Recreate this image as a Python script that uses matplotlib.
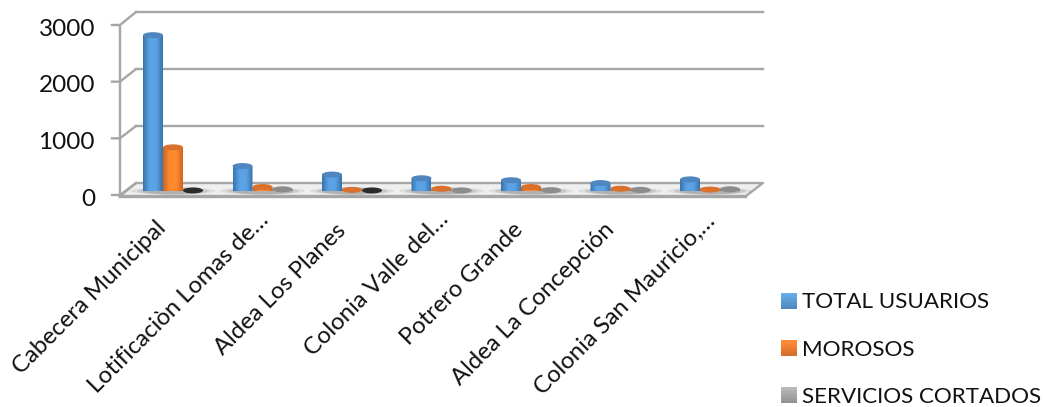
import numpy as np
import matplotlib
matplotlib.use("Agg")
import matplotlib.pyplot as plt
from matplotlib.patches import Ellipse, Polygon, Rectangle, Patch
from matplotlib.legend_handler import HandlerBase
from matplotlib.colors import LinearSegmentedColormap, to_rgb
from matplotlib.transforms import Affine2D

categories = ["Cabecera Municipal", "Lotificaciòn Lomas de…", "Aldea Los Planes",
              "Colonia Valle del…", "Potrero Grande", "Aldea La Concepción",
              "Colonia San Mauricio,…"]
total_usuarios = [2750, 440, 290, 225, 190, 140, 205]
morosos = [770, 70, 20, 40, 70, 40, 25]
servicios_cortados = [10, 30, 10, 10, 15, 20, 30]
y_ticks = [0, 1000, 2000, 3000]

W, H = 1043, 407
plt.rcParams["font.family"] = ["Lato", "DejaVu Sans"]
fig = plt.figure(figsize=(W / 100, H / 100), dpi=100)

def rect(l, t, r, b):
    return [l / W, 1 - b / H, (r - l) / W, (b - t) / H]

# pixel overlay for the 3D frame
bg = fig.add_axes([0, 0, 1, 1], zorder=0)
bg.set_xlim(0, W); bg.set_ylim(H, 0); bg.axis("off")
FL, FR, BL, BR = 120, 746, 136, 763
F0, F3 = 195, 25
B0, B3 = 183, 12
GC = "#A6A6A6"
LW = 1.7
bg.add_patch(Polygon([(FL, F0), (FR, F0), (BR, B0), (BL, B0)], fc="#EFEFEF", ec="none", zorder=1))
bg.plot([FL, FR, BR, BL, FL], [F0 + 1, F0 + 1, B0, B0, F0 + 1], color=GC, lw=LW, zorder=2)
bg.plot([FL, FR], [F0 + 2, F0 + 2], color=GC, lw=LW, zorder=2)
bg.plot([FL, FL], [F0 + 2, F3], color=GC, lw=LW, zorder=2)
for v in y_ticks:
    f = F0 + (F3 - F0) * v / 3000
    b = B0 + (B3 - B0) * v / 3000
    bg.plot([FL - 8, FL, BL], [f, f, b], color=GC, lw=LW, zorder=2)
    if v:
        bg.plot([BL, BR], [b, b], color=GC, lw=LW, zorder=2)

# value axes: front of the chart
ax = fig.add_axes(rect(FL, F3, FR, F0), zorder=1)
ax.patch.set_alpha(0)
ax.set_ylim(0, 3000)
GAP = 89.5
c0 = (173 - FL) / GAP
ax.set_xlim(-c0, -c0 + (FR - FL) / GAP)
for s in ax.spines.values():
    s.set_visible(False)
ax.set_yticks(y_ticks)
ax.set_xticks(range(len(categories)))
ax.set_xticklabels(categories, rotation=45, ha="right", rotation_mode="anchor", fontsize=17.2, color="#111111")
ax.tick_params(axis="y", length=0, pad=18, labelsize=17.5, labelcolor="#111111")
ax.tick_params(axis="x", length=0, pad=17)

# bar axes, same scale lifted onto the floor
bx = fig.add_axes(rect(FL, F3 - 4, FR, F0 - 4), zorder=2)
bx.patch.set_alpha(0)
bx.axis("off")

SERIES = [(total_usuarios, "#5BA3E6", "#3A74AC", "#4F86BD", -1),
          (morosos, "#FF8A30", "#D0651C", "#D9702C", 0),
          (servicios_cortados, "#A5A5A5", "#707070", "#8C8C8C", 1)]
DARK = {0, 2}  # groups whose third disc is black
BW = 20 / GAP
EH = 6 * 3000 / (F0 - F3)  # ellipse height in value units

xs = np.arange(len(categories))
# soft shadow on floor
for i in xs:
    for w, a in ((0.95, 0.10), (0.8, 0.14), (0.68, 0.16)):
        bx.add_patch(Ellipse((i, 0), w, 7 * 3000 / (F0 - F3), fc="#444444", ec="none", alpha=a, zorder=1))

theta = np.linspace(np.pi, 2 * np.pi, 25)
for vals, col, edge, topc, off in SERIES:
    cmap = LinearSegmentedColormap.from_list("c", [edge, col, col, edge])
    grad = np.linspace(0, 1, 32).reshape(1, -1)
    for i, v in zip(xs, vals):
        x = i + off * BW
        c_top = topc
        c_side = cmap
        if off == 1 and i in DARK:
            c_top = "#2B2B2B"
            c_side = LinearSegmentedColormap.from_list("k", ["#111111", "#333333", "#111111"])
        z = 3 + i * 0.01
        im = bx.imshow(grad, extent=(x - BW / 2, x + BW / 2, -EH / 2, v), aspect="auto", cmap=c_side, zorder=z)
        arc = np.column_stack([x + BW / 2 * np.cos(theta), EH / 2 * np.sin(theta)])
        outline = np.vstack([[[x - BW / 2, v]], arc, [[x + BW / 2, v]]])
        body = Polygon(outline, closed=True, transform=bx.transData, fc="none", ec="none")
        bx.add_patch(body)
        im.set_clip_path(body)
        bx.add_patch(Ellipse((x, v), BW, EH, fc=c_top, ec="none", zorder=z + 0.5, clip_on=False))
bx.set_xlim(ax.get_xlim())
bx.set_ylim(0, 3000)
for a in bx.patches:
    a.set_clip_on(False)

# legend with gradient swatches
class GradHandler(HandlerBase):
    def create_artists(self, legend, orig, xd, yd, width, height, fontsize, trans):
        c = np.array(to_rgb(orig.get_facecolor()))
        n = 12
        out = []
        side = 16 * 0.72
        y0 = -yd + height / 2 - side / 2
        for k in range(n):
            t = k / (n - 1)
            col = np.clip(c * (0.88 + 0.24 * t), 0, 1)
            out.append(Rectangle((-xd, y0 + side * k / n), side, side / n + 0.1, fc=col, ec="none", transform=trans))
        return out

handles = [Patch(fc="#5B9BD5", label="TOTAL USUARIOS"),
           Patch(fc="#ED7D31", label="MOROSOS"),
           Patch(fc="#A5A5A5", label="SERVICIOS CORTADOS")]
leg = fig.legend(handles=handles, handler_map={Patch: GradHandler()}, loc="upper left",
                 bbox_to_anchor=(781 / W, 1 - 292.5 / H), bbox_transform=fig.transFigure,
                 frameon=False, fontsize=16.1, labelspacing=1.22, handlelength=0.72,
                 handleheight=0.7, handletextpad=0.22, borderpad=0, borderaxespad=0,
                 labelcolor="#111111")

# nudge tick labels onto their reference spots (centres in pixels from the top-left)
label_centres = [(90, 298), (179, 303), (280, 289), (377, 284), (462, 284), (533, 304), (625, 304)]
fig.canvas.draw()
r = fig.canvas.get_renderer()
for lab, (cx, cy) in zip(ax.get_xticklabels(), label_centres):
    e = lab.get_window_extent(r)
    dx = cx - (e.x0 + e.x1) / 2
    dy = (H - cy) - (e.y0 + e.y1) / 2
    lab.set_transform(lab.get_transform() + Affine2D().translate(dx, dy))
for lab in ax.get_yticklabels():
    lab.set_transform(lab.get_transform() + Affine2D().translate(0, -2))
fig.savefig("out.png", dpi=100)
